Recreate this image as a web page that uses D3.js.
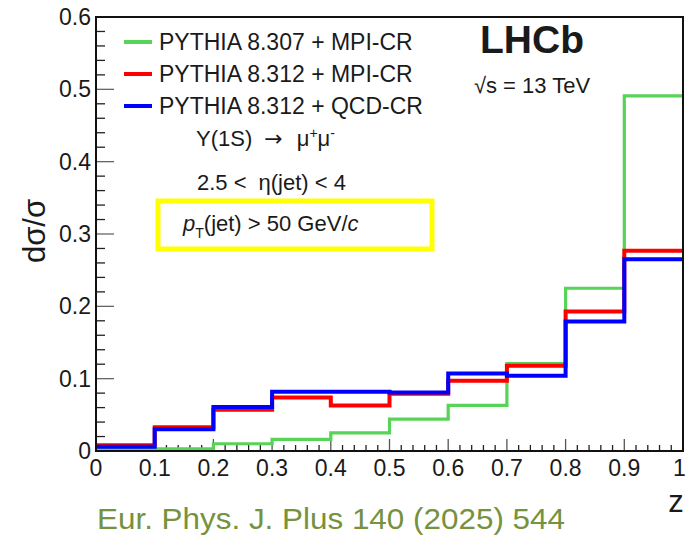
<!DOCTYPE html>
<html>
<head>
<meta charset="utf-8">
<script src="https://cdn.jsdelivr.net/npm/d3@7/dist/d3.min.js"></script>
<style>
  html, body { margin: 0; padding: 0; background: #fff; }
  svg { display: block; }
  text { font-family: "Liberation Sans", Arial, sans-serif; fill: #1a1a1a; }
</style>
</head>
<body>
<svg id="chart" width="687" height="537"></svg>
<script>
// Bin edges of the z distribution
const binEdges = [0, 0.1, 0.2, 0.3, 0.4, 0.5, 0.6, 0.7, 0.8, 0.9, 1.0];

// Normalised dσ/σ per z bin
const pythia8307MpiCr = [0.002, 0.003, 0.010, 0.016, 0.025, 0.044, 0.063, 0.121, 0.225, 0.491];
const pythia8312MpiCr = [0.008, 0.033, 0.057, 0.074, 0.063, 0.079, 0.097, 0.118, 0.193, 0.277];
const pythia8312QcdCr = [0.006, 0.030, 0.061, 0.082, 0.082, 0.081, 0.107, 0.104, 0.179, 0.265];

const seriesNames = ["PYTHIA 8.307 + MPI-CR", "PYTHIA 8.312 + MPI-CR", "PYTHIA 8.312 + QCD-CR"];
const seriesColors = ["#57d357", "#ff0000", "#0000ff"];
const seriesWidths = [3.2, 4, 4];

const xTicks = [0, 0.1, 0.2, 0.3, 0.4, 0.5, 0.6, 0.7, 0.8, 0.9, 1];
const xTickLabels = ["0", "0.1", "0.2", "0.3", "0.4", "0.5", "0.6", "0.7", "0.8", "0.9", "1"];
const yTicks = [0, 0.1, 0.2, 0.3, 0.4, 0.5, 0.6];
const yTickLabels = ["0", "0.1", "0.2", "0.3", "0.4", "0.5", "0.6"];

const svg = d3.select("#chart");
const frame = { left: 96, right: 683, top: 17, bottom: 451 };

const x = d3.scaleLinear().domain([0, 1]).range([frame.left, frame.right]);
const y = d3.scaleLinear().domain([0, 0.6]).range([frame.bottom, frame.top]);

// Minor ticks (5 subdivisions per major interval)
const xMinor = d3.range(0, 50).map(i => i / 50).filter(v => Math.round(v * 50) % 5 !== 0);
const yMinor = d3.range(0, 30).map(i => i / 50).filter(v => Math.round(v * 50) % 5 !== 0);

const ticksG = svg.append("g");
ticksG.selectAll("line.xmaj").data(xTicks.slice(1, -1)).enter().append("line")
  .attr("x1", d => x(d)).attr("x2", d => x(d))
  .attr("y1", frame.bottom).attr("y2", frame.bottom - 12)
  .attr("stroke", "#555").attr("stroke-width", 1.3);
ticksG.selectAll("line.xmin").data(xMinor).enter().append("line")
  .attr("x1", d => x(d)).attr("x2", d => x(d))
  .attr("y1", frame.bottom).attr("y2", frame.bottom - 6)
  .attr("stroke", "#222").attr("stroke-width", 1.3);
ticksG.selectAll("line.ymaj").data(yTicks.slice(1, -1)).enter().append("line")
  .attr("x1", frame.left).attr("x2", frame.left + 18)
  .attr("y1", d => y(d)).attr("y2", d => y(d))
  .attr("stroke", "#666").attr("stroke-width", 1.3);
ticksG.selectAll("line.ymin").data(yMinor).enter().append("line")
  .attr("x1", frame.left).attr("x2", frame.left + 9)
  .attr("y1", d => y(d)).attr("y2", d => y(d))
  .attr("stroke", "#222").attr("stroke-width", 1.3);

// Histograms drawn as steps
const stepLine = d3.line().x(d => x(d[0])).y(d => y(d[1])).curve(d3.curveStepAfter);
const allSeries = [pythia8307MpiCr, pythia8312MpiCr, pythia8312QcdCr];
allSeries.forEach((vals, i) => {
  const pts = vals.map((v, k) => [binEdges[k], v]);
  pts.push([binEdges[binEdges.length - 1], vals[vals.length - 1]]);
  svg.append("path")
    .attr("d", stepLine(pts))
    .attr("fill", "none")
    .attr("stroke", seriesColors[i])
    .attr("stroke-width", seriesWidths[i])
    .attr("stroke-linejoin", "miter");
});

// Frame
svg.append("rect")
  .attr("x", frame.left).attr("y", frame.top)
  .attr("width", frame.right - frame.left).attr("height", frame.bottom - frame.top)
  .attr("fill", "none").attr("stroke", "#111").attr("stroke-width", 2);

// Tick labels (the last one is kept inside the page edge)
svg.append("g").selectAll("text").data(xTicks).enter().append("text")
  .attr("x", d => d === 1 ? 673 : x(d)).attr("y", 476)
  .attr("text-anchor", d => d === 1 ? "start" : "middle")
  .attr("font-size", 23)
  .text((d, i) => xTickLabels[i]);
svg.append("g").selectAll("text").data(yTicks).enter().append("text")
  .attr("x", 91).attr("y", d => y(d) + 8)
  .attr("text-anchor", "end")
  .attr("font-size", 23)
  .text((d, i) => yTickLabels[i]);

// Axis titles
svg.append("text")
  .attr("transform", "translate(45,231) rotate(-90)")
  .attr("text-anchor", "middle")
  .attr("font-size", 31)
  .text("dσ/σ");
svg.append("text")
  .attr("x", 676).attr("y", 512)
  .attr("text-anchor", "middle")
  .attr("font-size", 31)
  .text("z");

// Legend
const legend = svg.append("g");
const legendY = [42, 74, 106];
seriesNames.forEach((name, i) => {
  legend.append("line")
    .attr("x1", 124).attr("x2", 152)
    .attr("y1", legendY[i]).attr("y2", legendY[i])
    .attr("stroke", seriesColors[i]).attr("stroke-width", 4);
  legend.append("text")
    .attr("x", 159).attr("y", legendY[i] + 8)
    .attr("font-size", 23)
    .text(name);
});

// Selection annotations
const ann = svg.append("g").attr("font-size", 22);
const t1 = ann.append("text").attr("x", 196).attr("y", 146);
t1.append("tspan").text("Υ(1S)");
t1.append("tspan").attr("dx", 12).attr("font-family", "'DejaVu Sans', sans-serif").text("→");
t1.append("tspan").attr("dx", 14).text("μ");
t1.append("tspan").attr("dy", -8).attr("font-size", 14).text("+");
t1.append("tspan").attr("dy", 8).text("μ");
t1.append("tspan").attr("dy", -8).attr("font-size", 14).text("-");

const t2 = ann.append("text").attr("x", 197).attr("y", 190);
t2.append("tspan").text("2.5 <");
t2.append("tspan").attr("dx", 12).text("η(jet) < 4");

svg.append("rect")
  .attr("x", 158).attr("y", 201).attr("width", 274).attr("height", 48)
  .attr("fill", "none").attr("stroke", "#ffff00").attr("stroke-width", 5);
const t3 = ann.append("text").attr("x", 183).attr("y", 231);
t3.append("tspan").attr("font-style", "italic").text("p");
t3.append("tspan").attr("dy", 7).attr("font-size", 14).text("T");
t3.append("tspan").attr("dy", -7).text("(jet) > 50 GeV/");
t3.append("tspan").attr("font-style", "italic").text("c");

// Experiment label
svg.append("text")
  .attr("x", 532).attr("y", 53)
  .attr("text-anchor", "middle")
  .attr("font-size", 39).attr("font-weight", "bold")
  .text("LHCb");
svg.append("text")
  .attr("x", 532).attr("y", 93)
  .attr("text-anchor", "middle")
  .attr("font-size", 22)
  .text("√s = 13 TeV");

// Reference
svg.append("text")
  .attr("x", 97).attr("y", 529)
  .attr("font-family", "'Open Sans', 'Noto Sans', sans-serif")
  .attr("font-size", 30)
  .attr("textLength", 468).attr("lengthAdjust", "spacingAndGlyphs")
  .style("fill", "#76923c")
  .text("Eur. Phys. J. Plus 140 (2025) 544");
</script>
</body>
</html>
